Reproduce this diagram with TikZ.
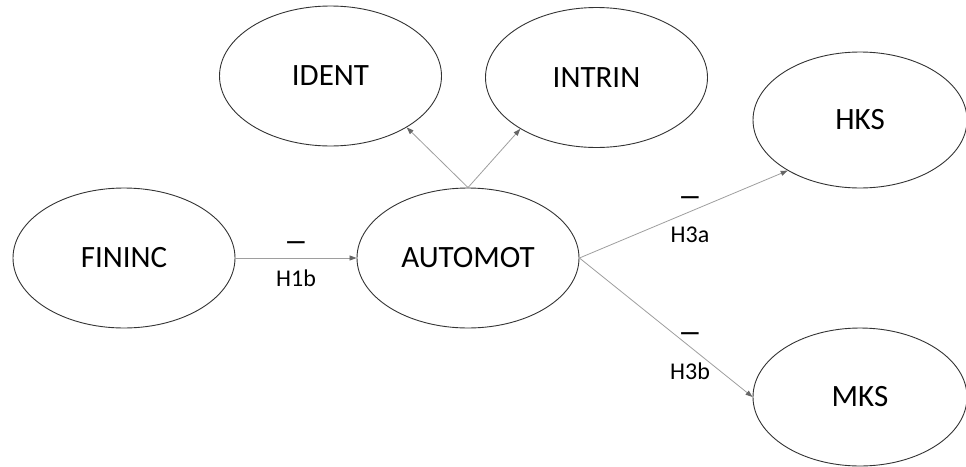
\documentclass[tikz,border=0pt]{standalone}
\usepackage{fontspec}
\setmainfont{Carlito}
\usetikzlibrary{shapes.geometric,arrows.meta}
\tikzset{
  construct/.style={ellipse, draw=black!80, line width=0.9pt, inner sep=0pt,
    minimum width=222pt, minimum height=140pt, font=\fontsize{31}{34}\selectfont},
  link/.style={draw=black!38, line width=0.8pt,
    -{Triangle[length=7pt,width=5pt,color=black!60]}},
  sign/.style={anchor=base, inner sep=0pt, font=\fontsize{24}{26}\selectfont\bfseries},
  hyp/.style={anchor=base, inner sep=0pt, font=\fontsize{24}{26}\selectfont}
}
\begin{document}
\begin{tikzpicture}[x=1pt,y=-1pt]
\useasboundingbox (0,0) rectangle (966,466);

% latent constructs
\node[construct] (fin)  at (124,258) {FININC};
\node[construct] (auto) at (468,258) {AUTOMOT};
\node[construct] (ident) at (330.5,76) {IDENT};
\node[construct] (intrin) at (596.5,77.5) {INTRIN};
\node[construct, minimum width=214pt, minimum height=136pt] (hks) at (860,120) {HKS};
\node[construct, minimum width=214pt, minimum height=138pt] (mks) at (860,397) {MKS};

% structural paths
\draw[link] (fin.east) -- (auto.west);
\draw[link] (auto.north) -- (ident.-34);
\draw[link] (auto.north) -- (intrin.-146);
\draw[link] (auto.east) -- (hks.215);
\draw[link] (auto.east) -- (mks.west);

% hypothesised signs and labels
\node[sign] (s1)  at (296,249) {—};
\node[hyp]  (h1)  at (296,286) {H1b};
\node[sign] (s3a) at (690,204) {—};
\node[hyp]  (h3a) at (690,242) {H3a};
\node[sign] (s3b) at (690,340) {—};
\node[hyp]  (h3b) at (690,379) {H3b};
\end{tikzpicture}
\end{document}
